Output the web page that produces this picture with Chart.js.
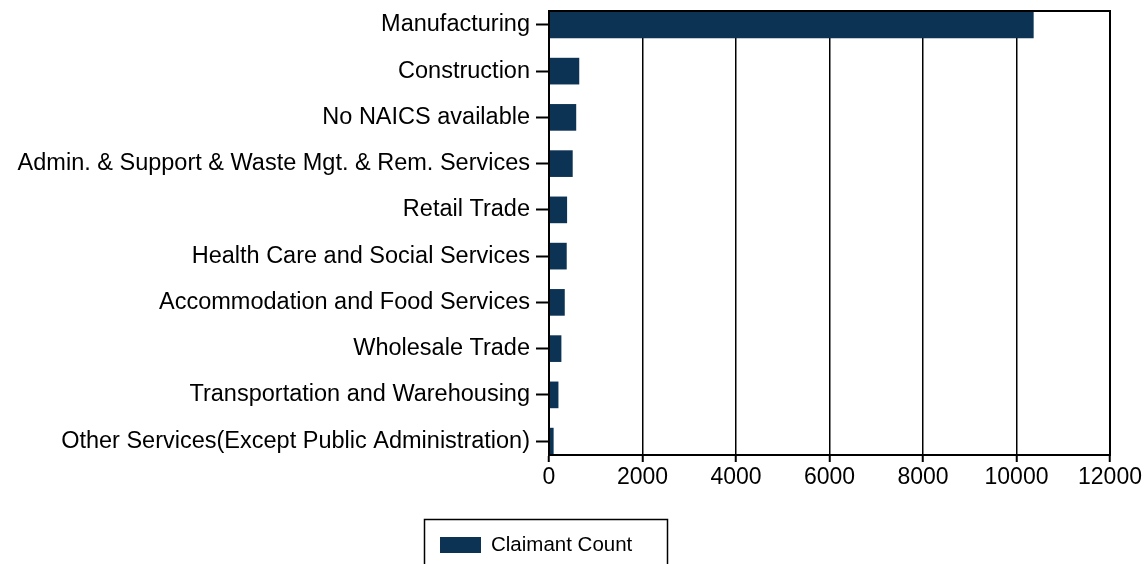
<!DOCTYPE html>
<html>
<head>
<meta charset="utf-8">
<script src="https://cdn.jsdelivr.net/npm/chart.js@4.4.1/dist/chart.umd.min.js"></script>
<style>
    html, body { margin: 0; padding: 0; background: #fff; }
    #wrap { width: 1145px; height: 564px; }
</style>
</head>
<body>
<div id="wrap"><canvas id="barChart"></canvas></div>
<script>
const industries = [
    'Manufacturing',
    'Construction',
    'No NAICS available',
    'Admin. & Support & Waste Mgt. & Rem. Services',
    'Retail Trade',
    'Health Care and Social Services',
    'Accommodation and Food Services',
    'Wholesale Trade',
    'Transportation and Warehousing',
    'Other Services(Except Public Administration)'
];
const claimantCounts = [10360, 640, 575, 500, 380, 372, 330, 258, 195, 92];
const seriesLabel = 'Claimant Count';
const xTicks = [0, 2000, 4000, 6000, 8000, 10000, 12000];

const barColor = '#0c3354';
const fontFamily = '"Liberation Sans", Arial, sans-serif';

// frame round the plot + boxed legend under it
const framePlugin = {
    id: 'frame',
    afterDraw(chart) {
        const ctx = chart.ctx;
        const area = chart.chartArea;
        ctx.save();
        ctx.strokeStyle = '#000';
        ctx.lineWidth = 2;
        ctx.strokeRect(area.left, area.top, area.right - area.left, area.bottom - area.top);

        const ds = chart.data.datasets[0];
        ctx.lineWidth = 1.5;
        ctx.strokeRect(424.5, 519.5, 243, 50);
        ctx.fillStyle = ds.backgroundColor;
        ctx.fillRect(440, 537, 41, 16);
        ctx.fillStyle = '#000';
        ctx.font = '20.5px ' + fontFamily;
        ctx.textBaseline = 'middle';
        ctx.fillText(ds.label, 491, 545);
        ctx.restore();
    }
};

function drawChart() {
    const ctx = document.getElementById('barChart').getContext('2d');
    new Chart(ctx, {
        type: 'bar',
        data: {
            datasets: [{
                label: seriesLabel,
                data: claimantCounts.map((v, i) => ({ x: v, y: i })),
                backgroundColor: barColor,
                barThickness: 26
            }]
        },
        options: {
            indexAxis: 'y',
            responsive: true,
            maintainAspectRatio: false,
            animation: false,
            layout: { padding: { top: 11, left: 9, right: 35, bottom: 69 } },
            plugins: {
                legend: { display: false },
                tooltip: { enabled: false }
            },
            scales: {
                y: {
                    type: 'linear',
                    reverse: true,
                    bounds: 'data',
                    offset: false,
                    min: -0.3,
                    max: 9.3,
                    afterBuildTicks: scale => {
                        scale.ticks = industries.map((c, i) => ({ value: i }));
                    },
                    afterFit: scale => {
                        scale.width = 540;
                        scale.paddingTop = 0;
                        scale.paddingBottom = 0;
                    },
                    ticks: {
                        autoSkip: false,
                        padding: 6,
                        color: '#000',
                        font: { family: fontFamily, size: 23.5 },
                        callback: v => industries[v]
                    },
                    grid: {
                        offset: false,
                        drawOnChartArea: false,
                        drawTicks: true,
                        tickLength: 13,
                        tickWidth: 2,
                        tickColor: '#000'
                    },
                    border: { color: '#000', width: 2 }
                },
                x: {
                    min: 0,
                    max: 12000,
                    afterBuildTicks: scale => {
                        scale.ticks = xTicks.map(v => ({ value: v }));
                    },
                    afterFit: scale => { scale.height = 40; },
                    ticks: {
                        padding: 2,
                        color: '#000',
                        maxRotation: 0,
                        font: { family: fontFamily, size: 23 },
                        callback: v => String(v)
                    },
                    grid: {
                        color: '#000',
                        lineWidth: 1.5,
                        tickLength: 7,
                        tickWidth: 2
                    },
                    border: { color: '#000', width: 2 }
                }
            }
        },
        plugins: [framePlugin]
    });
}

document.addEventListener('DOMContentLoaded', drawChart);
</script>
</body>
</html>
